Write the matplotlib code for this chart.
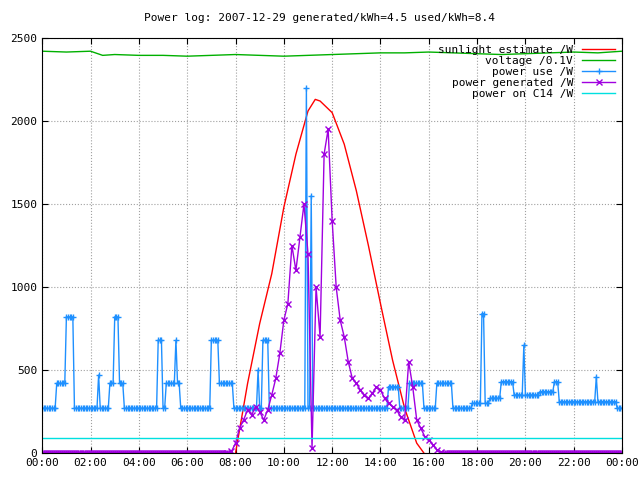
import numpy as np
import matplotlib.pyplot as plt

plt.rcParams['font.family'] = 'DejaVu Sans Mono'
plt.rcParams['font.size'] = 8

# power use /W : step changes (hour, value)
use_hours = [0.0, 0.6, 1.0, 1.3, 2.3, 2.4, 2.8, 3.0, 3.2, 3.4,
             4.8, 5.0, 5.1, 5.5, 5.6, 5.7, 7.0, 7.3, 7.9, 8.9,
             9.0, 9.1, 9.4, 10.9, 11.0, 11.1, 11.2, 14.3, 14.8, 15.2,
             15.8, 16.3, 17.0, 17.8, 18.2, 18.3, 18.5, 19.0, 19.5, 19.9,
             20.0, 20.6, 21.2, 21.4, 22.9, 23.0, 23.8]
use_values = [270, 420, 820, 270, 470, 270, 420, 820, 420, 270,
              680, 270, 420, 680, 420, 270, 680, 420, 270, 500,
              270, 680, 270, 2200, 270, 1550, 270, 400, 270, 420,
              270, 420, 270, 300, 840, 300, 330, 430, 350, 650,
              350, 370, 430, 310, 460, 310, 270]

# power generated /W : 10-minute samples from 07:40 to 16:40
gen_start = 7 + 40 / 60
gen_values = [0, 10, 60, 150, 200, 260, 230, 280, 250, 200, 260, 350, 450, 600, 800, 900,
              1250, 1100, 1300, 1500, 1200, 30, 1000, 700, 1800, 1950, 1400, 1000, 800, 700,
              550, 450, 420, 380, 350, 330, 360, 400, 380, 330, 300, 280, 260, 220, 200,
              550, 400, 200, 150, 100, 80, 50, 20, 5, 0]

# sunlight estimate /W
sun_hours = [8.0, 8.5, 9.0, 9.5, 10.0, 10.5, 11.0, 11.3, 11.5, 12.0, 12.5, 13.0, 13.5,
             14.0, 14.5, 15.0, 15.5, 15.8]
sun_values = [0, 420, 780, 1080, 1480, 1800, 2060, 2130, 2120, 2050, 1860, 1580, 1250,
              900, 560, 270, 60, 0]

# voltage /0.1V
volt_hours = [0, 1, 2, 2.5, 3, 4, 5, 6, 7, 8, 9, 10, 11, 12, 13, 14, 15, 16, 17, 18, 19,
              20, 21, 22, 23, 24]
volt_values = [2420, 2415, 2420, 2395, 2400, 2395, 2395, 2390, 2395, 2400, 2395, 2390,
               2395, 2400, 2405, 2410, 2410, 2415, 2410, 2405, 2400, 2405, 2410, 2415,
               2410, 2420]

c14_hours = [0, 24]
c14_values = [90, 90]

# expand data to sample grids
t_use = np.arange(0, 24.001, 4 / 60)
idx = np.searchsorted(use_hours, t_use + 1e-9, side='right') - 1
p_use = np.array(use_values)[idx]

t_gen = gen_start + np.arange(len(gen_values)) / 6
t_zero_a = np.arange(0, gen_start, 5 / 60)
t_zero_b = np.arange(t_gen[-1] + 5 / 60, 24.001, 5 / 60)
t_gen_all = np.concatenate([t_zero_a, t_gen, t_zero_b])
p_gen_all = np.concatenate([np.zeros(len(t_zero_a)), gen_values, np.zeros(len(t_zero_b))])

fig = plt.figure(figsize=(6.4, 4.8), dpi=100)
ax = fig.add_axes([0.066, 0.056, 0.906, 0.865])

ax.plot(sun_hours, sun_values, color='#ff0000', lw=1, label='sunlight estimate /W')
ax.plot(volt_hours, volt_values, color='#00b000', lw=1, label='voltage /0.1V')
ax.plot(t_use, p_use, color='#1e90ff', lw=1, marker='+', ms=5, mew=1,
        label='power use /W')
ax.plot(t_gen_all, p_gen_all, color='#a000e0', lw=1, marker='x', ms=4, mew=1,
        label='power generated /W')
ax.plot(c14_hours, c14_values, color='#00e0e0', lw=1, label='power on C14 /W')

ax.set_xlim(0, 24)
ax.set_ylim(0, 2500)
ax.set_xticks(range(0, 25, 2))
ax.set_xticklabels(['%02d:00' % (h % 24) for h in range(0, 25, 2)])
ax.set_yticks(range(0, 2501, 500))
ax.tick_params(direction='in', top=True, right=True, length=4)
ax.grid(True, color='#a0a0a0', linestyle=':', linewidth=0.8)

ax.legend(loc='upper right', frameon=False, markerfirst=False, handlelength=3,
          borderaxespad=0.2, labelspacing=0.1, fontsize=8)
fig.text(0.5, 0.962, 'Power log: 2007-12-29 generated/kWh=4.5 used/kWh=8.4',
         ha='center', va='center', fontsize=8)

fig.savefig('out.png')
